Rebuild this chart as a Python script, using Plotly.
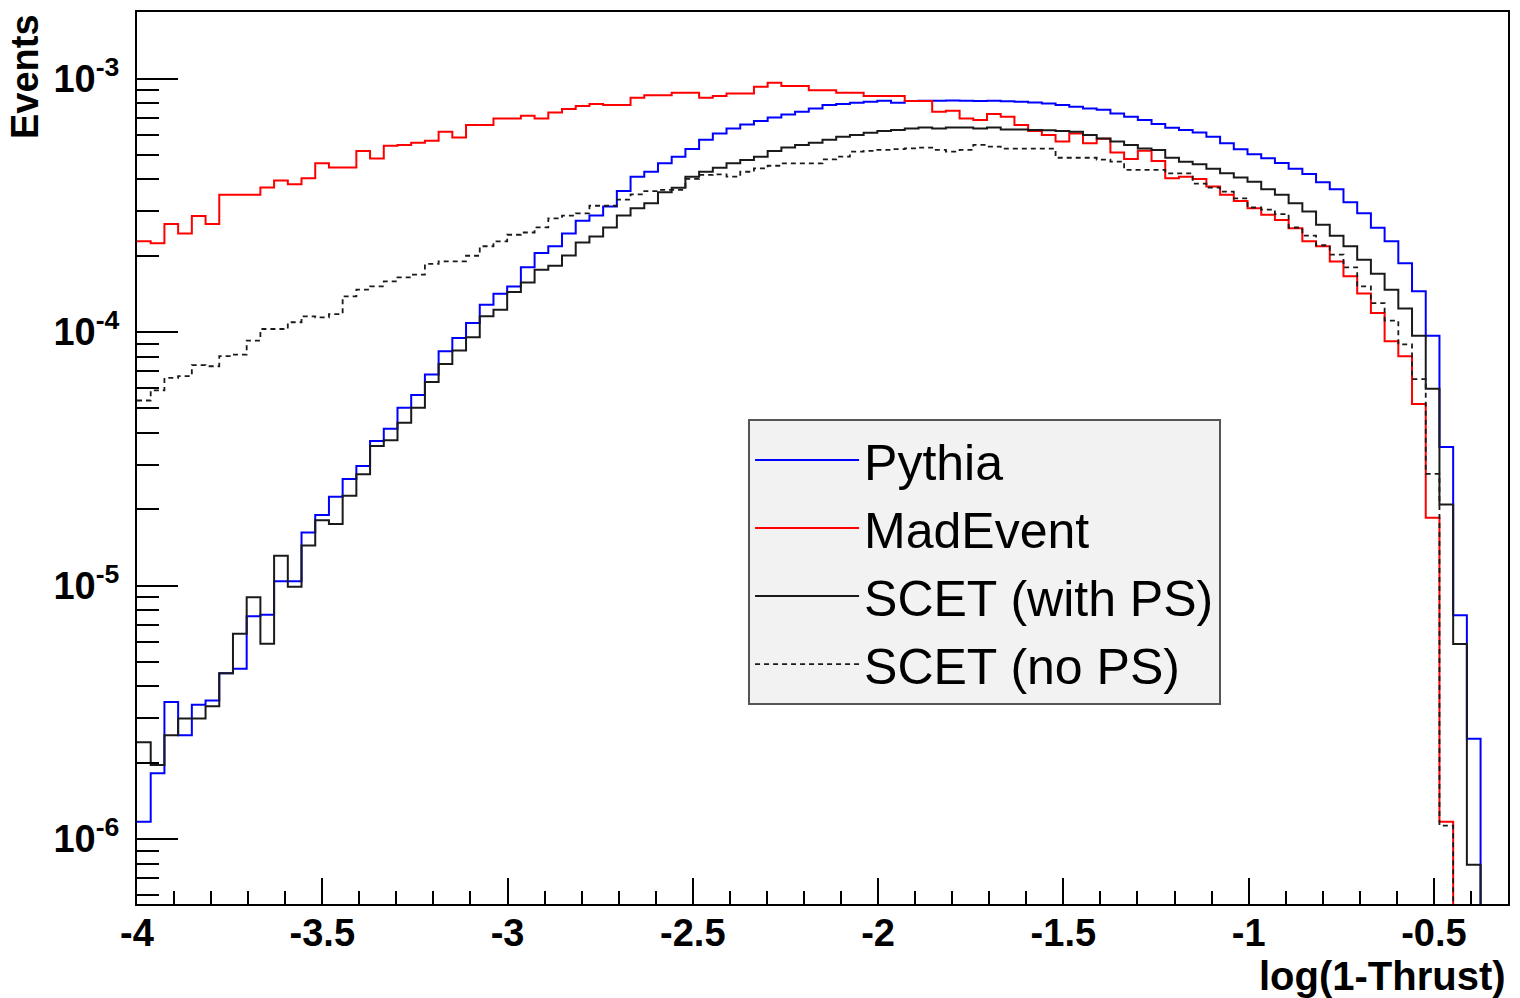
import numpy as np
import plotly.graph_objects as go

# ---------------- data (values in units of 1e-4 events, 100 bins) ----------------
x_min, x_max, n_bins = -4.0, -0.3, 100
value_unit = 1e-4

pythia = [0.0117, 0.0182, 0.0347, 0.0257, 0.0339, 0.0352, 0.0451, 0.0470, 0.0757, 0.0768,
          0.104, 0.104, 0.162, 0.190, 0.224, 0.263, 0.296, 0.372, 0.416, 0.503,
          0.564, 0.680, 0.840, 0.948, 1.086, 1.283, 1.417, 1.514, 1.80, 2.05,
          2.18, 2.45, 2.75, 2.88, 3.13, 3.60, 4.10, 4.29, 4.63, 4.92,
          5.27, 5.73, 6.07, 6.36, 6.59, 6.80, 7.02, 7.22, 7.40, 7.62,
          7.86, 7.93, 8.02, 8.10, 8.17, 8.02, 8.16, 8.18, 8.17, 8.19,
          8.17, 8.16, 8.18, 8.14, 8.10, 8.05, 7.97, 7.86, 7.74, 7.62,
          7.53, 7.28, 7.07, 6.86, 6.62, 6.40, 6.27, 6.13, 5.90, 5.56,
          5.26, 5.03, 4.85, 4.64, 4.41, 4.20, 3.90, 3.66, 3.25, 2.94,
          2.58, 2.28, 1.87, 1.45, 0.966, 0.352, 0.0764, 0.0249, 0, 0]

madevent = [2.28, 2.24, 2.67, 2.45, 2.87, 2.67, 3.48, 3.48, 3.48, 3.72,
            3.96, 3.83, 4.04, 4.63, 4.46, 4.46, 5.18, 4.84, 5.43, 5.47,
            5.58, 5.69, 6.17, 5.86, 6.56, 6.56, 6.96, 6.96, 7.13, 6.96,
            7.35, 7.58, 7.79, 7.93, 7.86, 7.86, 8.40, 8.60, 8.60, 8.78,
            8.78, 8.40, 8.53, 8.73, 8.73, 9.28, 9.62, 9.34, 9.34, 9.00,
            9.00, 8.78, 8.78, 8.53, 8.53, 8.53, 8.15, 8.15, 7.40, 7.46,
            6.96, 6.86, 7.24, 7.07, 6.56, 6.21, 5.99, 5.64, 6.07, 5.55,
            5.79, 5.11, 4.82, 5.19, 4.73, 4.04, 4.10, 4.02, 3.75, 3.48,
            3.29, 3.08, 2.90, 2.77, 2.57, 2.28, 2.18, 1.90, 1.66, 1.42,
            1.19, 0.920, 0.803, 0.520, 0.185, 0.0117, 0, 0, 0, 0]

scet_ps = [0.0241, 0.0196, 0.0257, 0.0299, 0.0299, 0.0334, 0.0451, 0.0645, 0.0899, 0.0589,
           0.131, 0.099, 0.144, 0.181, 0.175, 0.226, 0.275, 0.355, 0.374, 0.439,
           0.503, 0.636, 0.749, 0.846, 0.954, 1.154, 1.226, 1.438, 1.570, 1.762,
           1.827, 2.005, 2.256, 2.382, 2.585, 2.88, 3.08, 3.22, 3.56, 3.71,
           4.10, 4.29, 4.45, 4.63, 4.77, 4.92, 5.18, 5.34, 5.47, 5.58,
           5.73, 5.90, 5.99, 6.11, 6.21, 6.27, 6.36, 6.41, 6.36, 6.41,
           6.41, 6.36, 6.41, 6.30, 6.30, 6.27, 6.25, 6.21, 6.17, 5.99,
           5.80, 5.64, 5.47, 5.30, 5.23, 4.87, 4.70, 4.59, 4.41, 4.23,
           4.07, 3.92, 3.66, 3.48, 3.22, 2.99, 2.65, 2.40, 2.18, 1.93,
           1.70, 1.47, 1.24, 0.966, 0.597, 0.209, 0.0588, 0.00793, 0, 0]

scet_nops = [0.537, 0.589, 0.660, 0.670, 0.740, 0.733, 0.803, 0.815, 0.926, 1.028,
             1.028, 1.093, 1.154, 1.143, 1.178, 1.383, 1.47, 1.514, 1.584, 1.643,
             1.684, 1.857, 1.90, 1.90, 2.00, 2.18, 2.28, 2.42, 2.47, 2.59,
             2.81, 2.88, 2.94, 3.15, 3.15, 3.33, 3.49, 3.60, 3.64, 3.64,
             4.02, 4.17, 4.19, 4.10, 4.29, 4.42, 4.53, 4.63, 4.63, 4.63,
             4.80, 4.92, 5.15, 5.18, 5.23, 5.27, 5.30, 5.34, 5.23, 5.15,
             5.23, 5.47, 5.39, 5.29, 5.29, 5.29, 5.29, 4.87, 4.87, 4.87,
             4.79, 4.70, 4.36, 4.36, 4.36, 4.23, 4.23, 3.85, 3.71, 3.58,
             3.37, 3.10, 3.04, 2.92, 2.585, 2.40, 2.20, 2.02, 1.80, 1.514,
             1.30, 1.11, 0.895, 0.652, 0.276, 0.0113, 0, 0, 0, 0]

series_names = ["Pythia", "MadEvent", "SCET (with PS)", "SCET (no PS)"]
x_tick_vals = [-4, -3.5, -3, -2.5, -2, -1.5, -1, -0.5]
x_tick_text = ["-4", "-3.5", "-3", "-2.5", "-2", "-1.5", "-1", "-0.5"]
y_tick_exps = [-6, -5, -4, -3]
y_tick_text = ["10<sup>-6</sup>", "10<sup>-5</sup>", "10<sup>-4</sup>", "10<sup>-3</sup>"]

# ---------------- figure ----------------
y_log_range = [-6.256, -2.7375]
floor = 10 ** (y_log_range[0] - 2)   # empty bins drop below the frame, like ROOT
edges = np.linspace(x_min, x_max, n_bins + 1)


def step_y(vals):
    v = np.asarray(vals, dtype=float) * value_unit
    v = np.where(v > 0, v, floor)
    return np.append(v, v[-1])


FONT = "Liberation Sans"
styles = [
    dict(color="#0000ff", width=2),
    dict(color="#ff0000", width=2),
    dict(color="#1a1a1a", width=2),
    dict(color="#1a1a1a", width=1.8, dash="5px,4px"),
]

fig = go.Figure()
for name, vals, st in zip(series_names, [pythia, madevent, scet_ps, scet_nops], styles):
    fig.add_trace(go.Scatter(
        x=edges, y=step_y(vals), mode="lines", name=name,
        line=dict(shape="hv", **st), legendgroup=name, hoverinfo="skip",
    ))

minor_y = [k * 10.0 ** e for e in range(-7, -1) for k in range(2, 10)]

fig.update_layout(
    width=1520, height=998,
    margin=dict(l=137, r=12, t=10, b=94),
    paper_bgcolor="white", plot_bgcolor="white",
    font=dict(family=FONT, color="black"),
    showlegend=True,
    legend=dict(
        x=0.4457, y=0.5436, xanchor="left", yanchor="top",
        bgcolor="#f2f2f2", bordercolor="#555555", borderwidth=2,
        font=dict(family=FONT, size=50, color="black"),
        itemwidth=104, tracegroupgap=4, traceorder="normal",
    ),
    xaxis=dict(
        range=[x_min, x_max], showgrid=False, zeroline=False,
        showline=True, linecolor="black", linewidth=2, mirror=True,
        tickmode="array", tickvals=x_tick_vals, ticktext=x_tick_text,
        ticks="inside", ticklen=26, tickwidth=2, tickcolor="black",
        tickfont=dict(family=FONT, size=38, color="black", weight="bold"),
        ticklabelstandoff=-6,
        minor=dict(tickmode="linear", tick0=x_min, dtick=0.1, ticks="inside",
                   ticklen=13, tickwidth=2, tickcolor="black", showgrid=False),
    ),
    yaxis=dict(
        type="log", range=y_log_range, showgrid=False, zeroline=False,
        showline=True, linecolor="black", linewidth=2, mirror=True,
        tickmode="array", tickvals=[10.0 ** e for e in y_tick_exps], ticktext=y_tick_text,
        ticks="inside", ticklen=41, tickwidth=2, tickcolor="black",
        tickfont=dict(family=FONT, size=38, color="black", weight="bold"),
        ticklabelstandoff=8,
        minor=dict(tickmode="array", tickvals=minor_y, ticks="inside",
                   ticklen=22, tickwidth=2, tickcolor="black", showgrid=False),
    ),
    annotations=[
        dict(text="<b>Events</b>", xref="paper", yref="paper", x=-0.082, y=1.0,
             xanchor="center", yanchor="top", textangle=-90, showarrow=False,
             font=dict(family=FONT, size=38, color="black")),
        dict(text="<b>log(1-Thrust)</b>", xref="paper", yref="paper", x=1.0, y=-0.081,
             xanchor="right", yanchor="middle", showarrow=False,
             font=dict(family=FONT, size=40, color="black")),
    ],
)

fig.write_html(
    "out.html",
    config={"displayModeBar": False, "staticPlot": True},
    post_script="document.body.style.margin='0';document.body.style.overflow='hidden';",
)
